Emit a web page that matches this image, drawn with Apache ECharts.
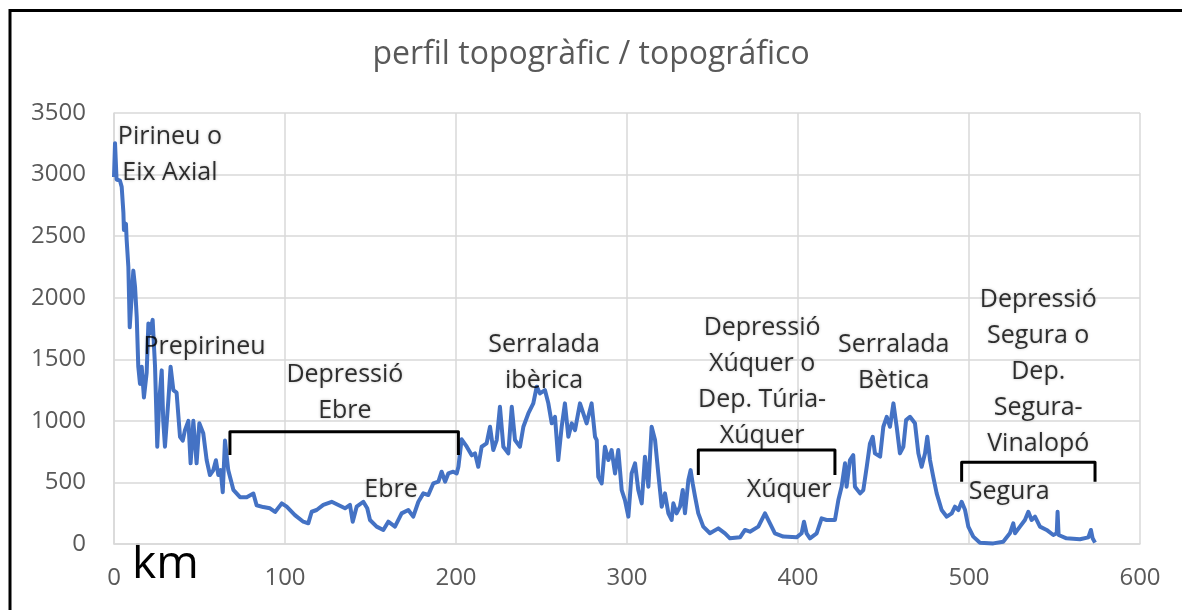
<!DOCTYPE html>
<html>
<head>
    <meta charset="utf-8">
    <title>perfil topogràfic</title>
    <script src="https://cdn.jsdelivr.net/npm/echarts@6/dist/echarts.min.js"></script>
    <style>
        html, body { margin: 0; padding: 0; background: #fff; }
        #chart { width: 1182px; height: 610px; }
    </style>
</head>
<body>
<div id="chart"></div>
<script>
// perfil: distància (km) i altitud (m)
const profileKm = [
    0, 0.6, 1.5, 3.5, 4.5, 5.5, 5.8, 7, 7.4, 8.4, 9.2, 11.3, 12.3, 13.3, 14.2, 15.2, 16.2, 17.5, 19.1, 20.1,
    21, 22.6, 24, 25.3, 26.5, 27.9, 28.8, 29.8, 31.8, 33.1, 34.7, 36.6, 38.6, 40.2, 41.5, 43.5, 44.8, 46.4, 48.3, 49.9,
    52.2, 54.2, 56.1, 58.1, 59.6, 61, 62.4, 63.6, 64.9, 66.8, 69.8, 73.7, 77.6, 81.5, 83.4, 87.3, 91.2, 94.2, 98.1, 101,
    105.8, 110.7, 113.6, 115.6, 118.5, 122.4, 127.3, 131.2, 135.1, 138, 139.6, 141.9, 145.8, 148.1, 149.7, 153.6, 157.5, 160.4, 164.3, 168.2,
    172.1, 175, 178, 180.9, 183.8, 186.7, 189.7, 191.6, 193.6, 195.5, 198.4, 200.4, 201.4, 203.3, 206.3, 209.2, 211.1, 213, 215, 217.9,
    219.9, 221.8, 223.8, 225.7, 227.7, 230.6, 232.6, 234.5, 237.4, 239.4, 242.3, 245.2, 247.2, 249.1, 252, 254, 256, 257.9, 259.8, 261.8,
    263.7, 265.7, 267.7, 269.6, 272.5, 276.4, 279.3, 281.3, 282.3, 283.2, 285.2, 287.1, 289.1, 291, 293, 294.9, 296.9, 298.8, 300.8, 302.7,
    304.7, 306.6, 308.6, 310.5, 312.5, 314.4, 316.4, 318.3, 320.3, 322.2, 324.2, 326.1, 327.1, 329, 331, 332.6, 333.9, 335.9, 337.2, 338.4,
    339.8, 341.7, 344.6, 348.5, 353.4, 357.3, 360.2, 366.1, 369, 371.9, 376.8, 380.7, 383.6, 386.5, 391.4, 399.2, 402.1, 403.5, 405, 407,
    410.9, 413.8, 416.7, 421.6, 423.6, 425.5, 427.5, 428.4, 430.4, 432.3, 433.3, 436.3, 438.2, 440.2, 442.1, 443.7, 445, 448, 449.9, 451.9,
    453.8, 455.8, 457.7, 459.6, 461.6, 463.2, 465.5, 468.4, 470.4, 472.3, 474.3, 475.6, 477.2, 479.1, 481.1, 484, 487, 489.9, 491.8, 493.8,
    495.7, 497.7, 499.6, 502.5, 506.4, 514.2, 520, 523.9, 525.9, 526.9, 529.8, 532.7, 534.7, 536.6, 538.6, 541.5, 545.4, 549.3, 551.3, 551.8,
    552.4, 557, 564.9, 569.8, 571.3, 572.3, 573.7
];
const profileAlt = [
    2980, 3255, 2960, 2950, 2900, 2690, 2550, 2600, 2470, 2250, 1760, 2220, 2090, 1840, 1440, 1300, 1440, 1190, 1390, 1790,
    1710, 1820, 1440, 790, 1170, 1410, 1000, 790, 1170, 1440, 1250, 1230, 870, 840, 925, 1000, 655, 1000, 655, 980,
    900, 680, 560, 600, 680, 560, 600, 420, 840, 600, 440, 380, 380, 410, 315, 300, 290, 260, 330, 303,
    235, 181, 168, 262, 276, 317, 343, 317, 290, 317, 181, 303, 343, 290, 195, 141, 114, 181, 141, 249,
    276, 222, 343, 411, 398, 492, 506, 587, 506, 573, 587, 573, 627, 850, 790, 720, 736, 627, 790, 817,
    952, 763, 844, 1114, 790, 736, 1114, 844, 790, 952, 1060, 1142, 1277, 1223, 1250, 1142, 980, 1033, 682, 952,
    1142, 871, 980, 925, 1142, 980, 1142, 871, 844, 546, 492, 790, 682, 763, 573, 763, 438, 357, 222, 573,
    655, 438, 330, 709, 465, 952, 844, 573, 303, 411, 249, 195, 330, 249, 303, 438, 249, 520, 600, 492,
    384, 249, 141, 87, 127, 87, 46, 54, 114, 100, 141, 249, 168, 87, 60, 54, 87, 181, 87, 46,
    87, 208, 195, 195, 357, 465, 655, 465, 682, 722, 465, 411, 438, 627, 817, 871, 736, 709, 952, 1033,
    952, 1142, 952, 736, 790, 1006, 1033, 980, 736, 627, 736, 871, 682, 546, 411, 276, 222, 249, 303, 276,
    343, 276, 141, 60, 11, 5, 19, 87, 168, 87, 141, 195, 262, 195, 222, 141, 114, 73, 87, 262,
    73, 46, 38, 54, 114, 46, 11
];

// rètols de les unitats del relleu
const labelNames = [
    'Pirineu o\nEix Axial', 'Prepirineu', 'Depressió\nEbre', 'Ebre', 'Serralada\nibèrica',
    'Depressió\nXúquer o\nDep. Túria-\nXúquer', 'Xúquer', 'Serralada\nBètica',
    'Depressió\nSegura o\nDep.\nSegura-\nVinalopó', 'Segura'
];
const labelKm = [32.7, 52.9, 135, 162, 251.5, 379, 394.8, 456, 540.5, 523.5];
const labelAlt = [3160, 1600, 1230, 438, 1473, 1319, 438, 1473, 1396, 422];

// claudàtors (km inici, km final, altitud base, altitud dalt)
const bracketStart = [67.8, 341.7, 495.7];
const bracketEnd = [201.4, 421.6, 573.7];
const bracketLow = [722, 560, 506];
const bracketHigh = [912, 763, 663];

const xTicks = [0, 600, 100];
const yTicks = [0, 3500, 500];

const font = '"Open Sans", "Noto Sans", sans-serif';
const chart = echarts.init(document.getElementById('chart'));

const bracketSeries = bracketStart.map((s, i) => ({
    type: 'line',
    data: [
        [s, bracketLow[i]], [s, bracketHigh[i]],
        [bracketEnd[i], bracketHigh[i]], [bracketEnd[i], bracketLow[i]]
    ],
    showSymbol: false,
    lineStyle: { color: '#000', width: 3, join: 'round' },
    silent: true,
    z: 3
}));

const option = {
    animation: false,
    title: {
        text: 'perfil topogràfic / topográfico',
        left: 'center',
        top: 34,
        textStyle: { color: '#595959', fontSize: 32, fontWeight: 'normal', fontFamily: font }
    },
    grid: { left: 114, right: 42, top: 113, bottom: 66 },
    xAxis: {
        type: 'value',
        min: xTicks[0], max: xTicks[1], interval: xTicks[2],
        axisLine: { show: true, lineStyle: { color: '#d9d9d9', width: 1.5 } },
        axisTick: { show: false },
        splitLine: { show: true, lineStyle: { color: '#d9d9d9', width: 1.5 } },
        axisLabel: { color: '#595959', fontSize: 24, fontFamily: font, margin: 22, formatter: v => String(v) }
    },
    yAxis: {
        type: 'value',
        min: yTicks[0], max: yTicks[1], interval: yTicks[2],
        axisLine: { show: true, lineStyle: { color: '#d9d9d9', width: 1.5 } },
        axisTick: { show: false },
        splitLine: { show: true, lineStyle: { color: '#d9d9d9', width: 1.5 } },
        axisLabel: { color: '#595959', fontSize: 24, fontFamily: font, margin: 28, formatter: v => String(v) }
    },
    series: [
        {
            type: 'line',
            data: profileKm.map((k, i) => [k, profileAlt[i]]),
            showSymbol: false,
            lineStyle: { color: '#4472c4', width: 4, join: 'round' },
            z: 2
        },
        ...bracketSeries,
        {
            type: 'scatter',
            data: labelNames.map((n, i) => ({ name: n, value: [labelKm[i], labelAlt[i]] })),
            symbolSize: 1,
            itemStyle: { color: 'rgba(0,0,0,0)' },
            label: {
                show: true,
                position: 'inside',
                formatter: p => p.name,
                color: '#000',
                fontSize: 25,
                lineHeight: 36,
                fontFamily: font,
                align: 'center',
                textShadowColor: 'rgba(0,0,0,0.3)',
                textShadowBlur: 3
            },
            silent: true,
            z: 5
        }
    ],
    graphic: [
        {
            type: 'rect',
            shape: { x: 10, y: 10.5, width: 1300, height: 800 },
            style: { fill: 'none', stroke: '#000', lineWidth: 3 },
            silent: true
        },
        {
            type: 'text',
            left: 132,
            top: 542,
            style: { text: 'km', fontSize: 46, fontFamily: font, fill: '#000' },
            silent: true
        }
    ]
};

chart.setOption(option);
</script>
</body>
</html>
